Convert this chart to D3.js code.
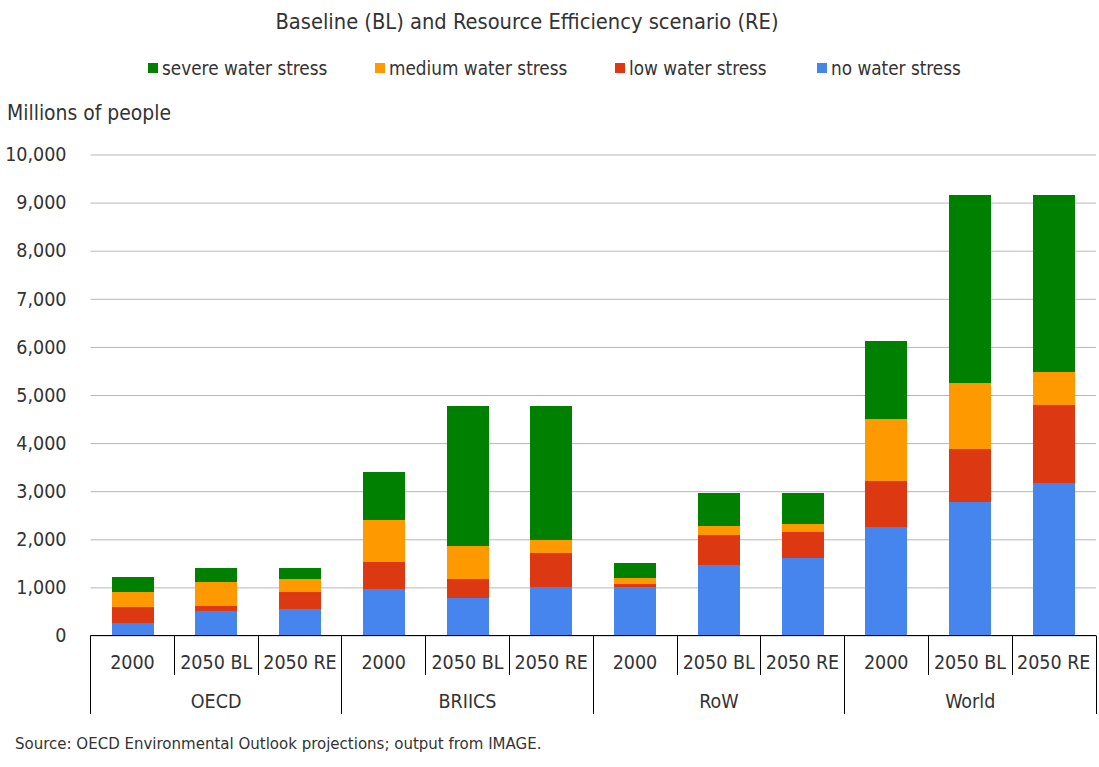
<!DOCTYPE html>
<html>
<head>
<meta charset="utf-8">
<script src="https://cdn.jsdelivr.net/npm/d3@7"></script>
<style>
  html, body { margin: 0; background: #fff; }
  svg { display: block; }
  text { font-family: "DejaVu Sans", sans-serif; font-stretch: condensed; fill: #333; }
</style>
</head>
<body>
<svg id="chart" width="1099" height="767"></svg>
<script>
// values, millions of people
let groups = ['OECD', 'BRIICS', 'RoW', 'World'];
let periods = ['2000', '2050 BL', '2050 RE'];
let noStress = [260, 510, 550, 967, 780, 1008, 1008, 1466, 1611, 2256, 2775, 3170];
let lowStress = [332, 103, 354, 561, 395, 707, 62, 623, 541, 956, 1102, 1622];
let mediumStress = [312, 499, 271, 873, 685, 270, 125, 187, 166, 1289, 1372, 686];
let severeStress = [312, 291, 228, 998, 2911, 2786, 312, 687, 645, 1622, 3909, 3680];
let yTicks = [0, 1000, 2000, 3000, 4000, 5000, 6000, 7000, 8000, 9000, 10000];

let seriesKeys = ['no', 'low', 'medium', 'severe'];
let seriesValues = { no: noStress, low: lowStress, medium: mediumStress, severe: severeStress };
let seriesColor = { no: '#4684ee', low: '#dc3912', medium: '#ff9900', severe: '#008000' };

// legend runs in the opposite order to the stack
let legendKeys = ['severe', 'medium', 'low', 'no'];
let legendLabels = ['severe water stress', 'medium water stress', 'low water stress', 'no water stress'];
let legendX = [148, 375, 615, 817];

let svg = d3.select('#chart');
let plot = { left: 90.5, right: 1096, top: 154.5, bottom: 635.5 };

let rows = groups.flatMap((g, i) => periods.map((p, j) => {
    let row = { group: g, period: p, key: g + '|' + p };
    for (let k of seriesKeys) row[k] = seriesValues[k][i * periods.length + j];
    return row;
}));

let x = d3.scaleBand()
    .domain(rows.map(d => d.key))
    .range([90.6, 1095.6])
    .paddingInner(0.5)
    .paddingOuter(0.25);
let y = d3.scaleLinear().domain([0, 10000]).range([plot.bottom, plot.top]);
let step = x.step();
let bandLeft = i => plot.left + i * (plot.right - plot.left) / rows.length;

svg.append('text')
    .attr('x', 527).attr('y', 29)
    .attr('text-anchor', 'middle')
    .style('font-size', '21.7px')
    .text('Baseline (BL) and Resource Efficiency scenario (RE)');

let legend = svg.append('g').selectAll('g')
    .data(legendKeys)
    .join('g')
    .attr('transform', (d, i) => `translate(${legendX[i]},0)`);
legend.append('rect')
    .attr('y', 63).attr('width', 10).attr('height', 10)
    .attr('fill', d => seriesColor[d]);
legend.append('text')
    .attr('x', 14).attr('y', 75)
    .style('font-size', '18.8px')
    .text((d, i) => legendLabels[i]);

svg.append('text')
    .attr('x', 7).attr('y', 120)
    .style('font-size', '20.9px')
    .text('Millions of people');

// gridlines and value labels
let yAxis = svg.append('g')
    .attr('transform', `translate(${plot.left},0)`)
    .call(d3.axisLeft(y)
        .tickValues(yTicks)
        .tickSize(-(plot.right - plot.left))
        .tickPadding(24)
        .tickFormat(d3.format(',')));
yAxis.select('.domain').remove();
yAxis.selectAll('.tick line').attr('stroke', '#b7b7b7').attr('stroke-width', 1);
yAxis.selectAll('.tick text')
    .attr('font-family', null)
    .style('font-size', '19.5px');

let stacked = d3.stack().keys(seriesKeys)(rows);
svg.append('g').selectAll('g')
    .data(stacked)
    .join('g')
    .attr('fill', d => seriesColor[d.key])
    .selectAll('rect')
    .data(d => d)
    .join('rect')
    .attr('x', d => Math.round(x(d.data.key)))
    .attr('width', Math.round(x.bandwidth()))
    .attr('y', d => y(d[1]))
    .attr('height', d => y(d[0]) - y(d[1]));

// two level category axis
let axis = svg.append('g').attr('stroke', '#000').attr('stroke-width', 1);
axis.append('line')
    .attr('x1', plot.left).attr('x2', plot.right)
    .attr('y1', plot.bottom).attr('y2', plot.bottom);
axis.selectAll('line.sep')
    .data(d3.range(rows.length + 1))
    .join('line')
    .attr('class', 'sep')
    .attr('x1', i => Math.floor(bandLeft(i)) + 0.5)
    .attr('x2', i => Math.floor(bandLeft(i)) + 0.5)
    .attr('y1', plot.bottom)
    .attr('y2', i => i % periods.length === 0 ? 714 : 675);

svg.append('g').selectAll('text')
    .data(rows)
    .join('text')
    .attr('x', d => x(d.key) + x.bandwidth() / 2)
    .attr('y', 669)
    .attr('text-anchor', 'middle')
    .style('font-size', '19.5px')
    .text(d => d.period);

svg.append('g').selectAll('text')
    .data(groups)
    .join('text')
    .attr('x', (d, i) => bandLeft(i * periods.length) + step * periods.length / 2)
    .attr('y', 708)
    .attr('text-anchor', 'middle')
    .style('font-size', '19.5px')
    .text(d => d);

svg.append('text')
    .attr('x', 15).attr('y', 749)
    .style('font-size', '16.7px')
    .text('Source: OECD Environmental Outlook projections; output from IMAGE.');
</script>
</body>
</html>
